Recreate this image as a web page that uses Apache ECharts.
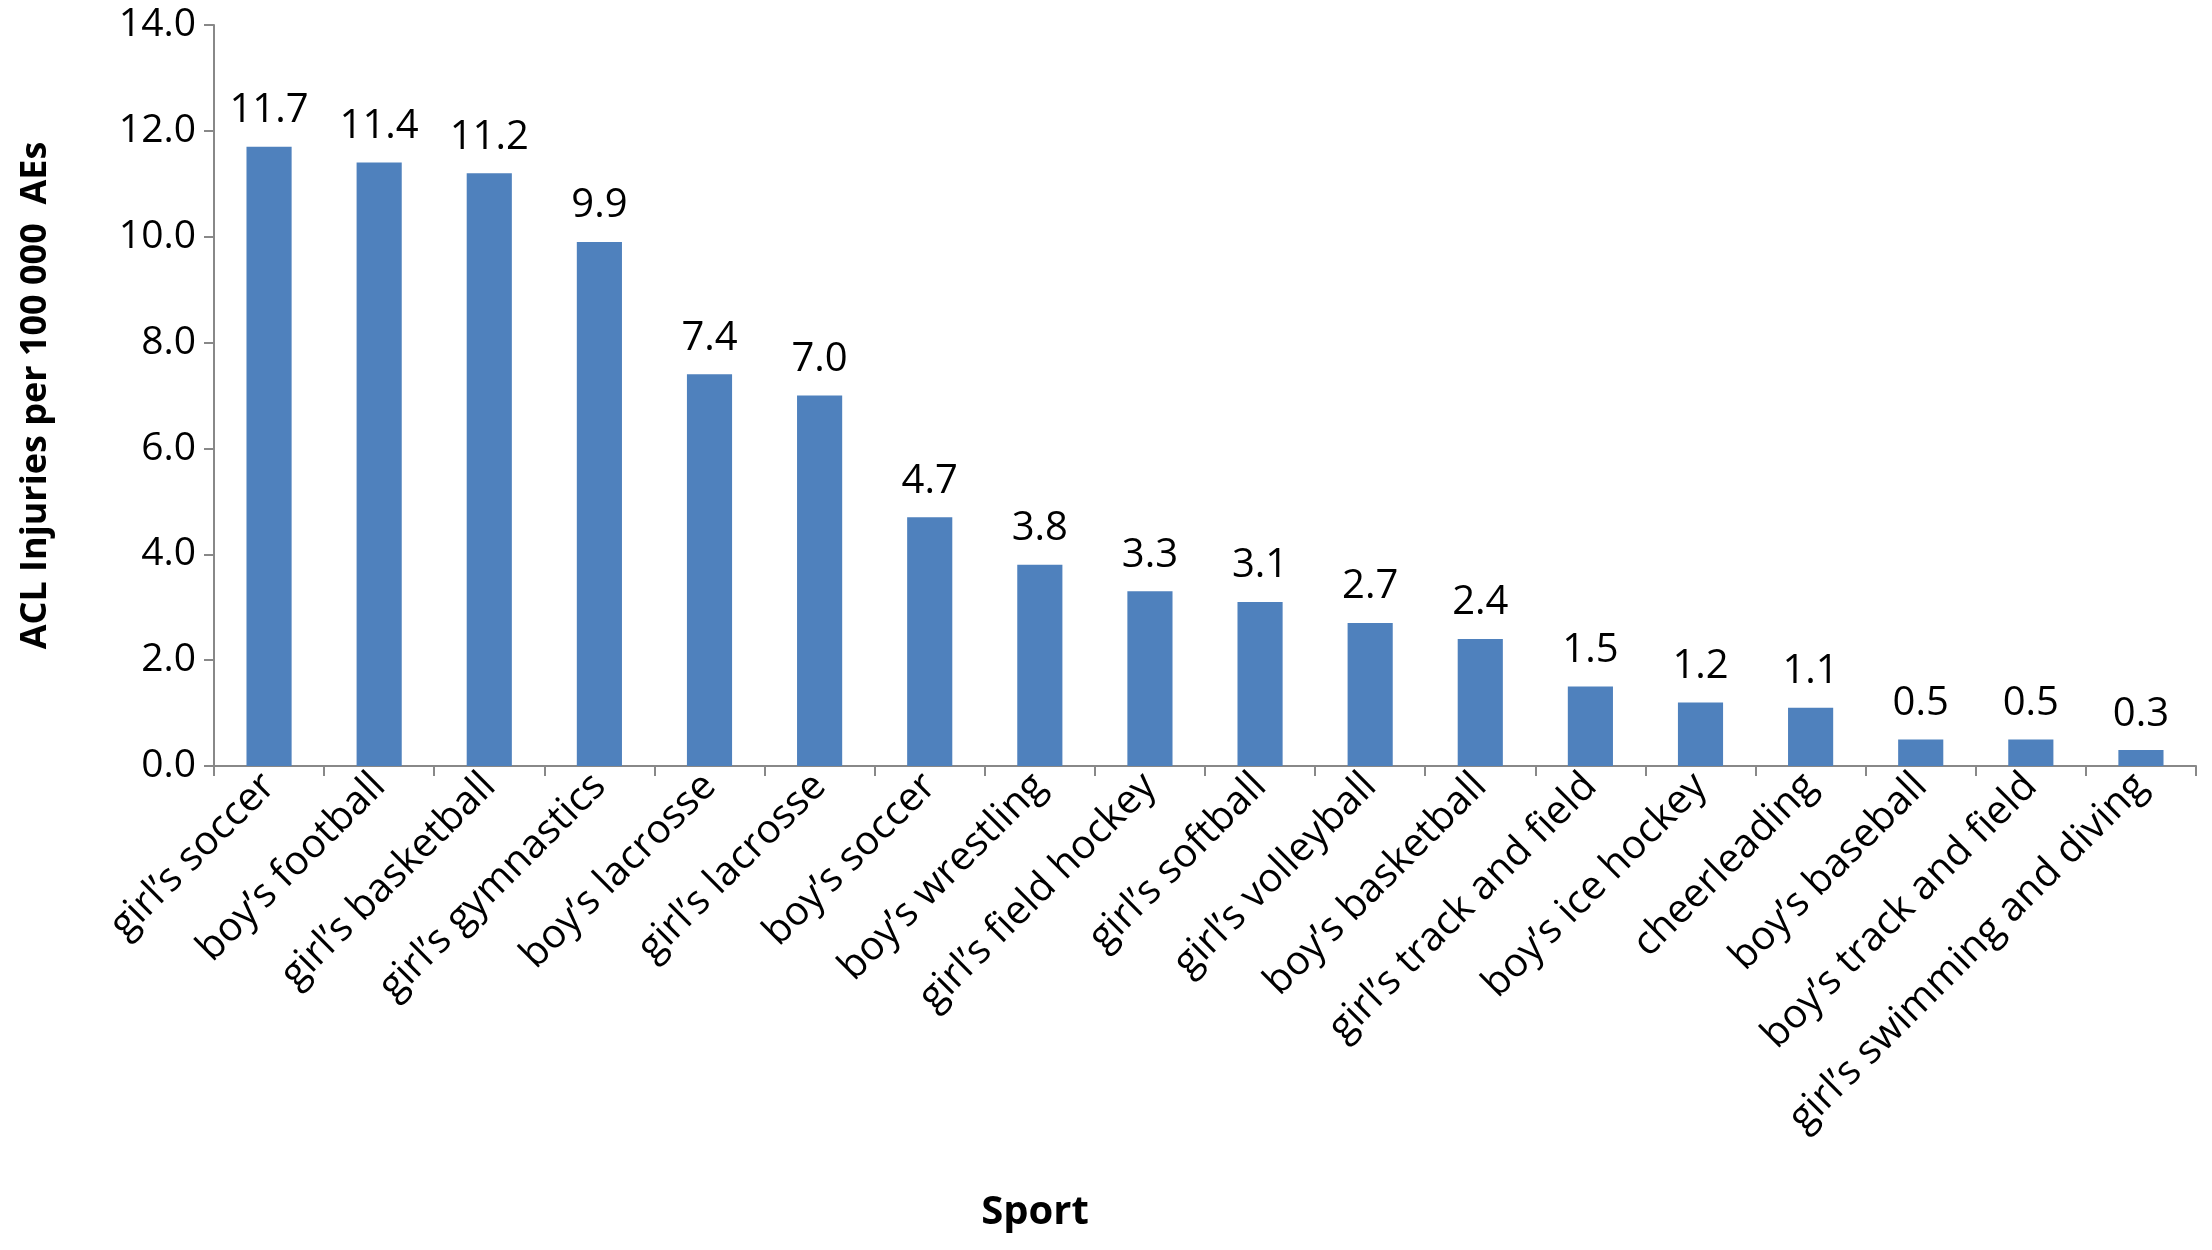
<!DOCTYPE html>
<html>
<head>
<meta charset="utf-8">
<script src="https://cdn.jsdelivr.net/npm/echarts@6/dist/echarts.min.js"></script>
<style>html,body{margin:0;padding:0;background:#fff}#main{width:2212px;height:1250px}</style>
</head>
<body>
<div id="main"></div>
<script>
var sports = ["girl’s soccer", "boy’s football", "girl’s basketball", "girl’s gymnastics",
  "boy’s lacrosse", "girl’s lacrosse", "boy’s soccer", "boy’s wrestling", "girl’s field hockey",
  "girl’s softball", "girl’s volleyball", "boy’s basketball", "girl’s track and field",
  "boy’s ice hockey", "cheerleading", "boy’s baseball", "boy’s track and field",
  "girl’s swimming and diving"];
var rates = [11.7, 11.4, 11.2, 9.9, 7.4, 7.0, 4.7, 3.8, 3.3, 3.1, 2.7, 2.4, 1.5, 1.2, 1.1, 0.5, 0.5, 0.3];

var chart = echarts.init(document.getElementById('main'));
var font = 'Open Sans';
chart.setOption({
  animation: false,
  textStyle: { fontFamily: font },
  title: {
    text: 'Sport', left: 1030, top: 1188, textAlign: 'center',
    textStyle: { fontSize: 40, fontWeight: 'bold', color: '#000', fontFamily: font }
  },
  grid: { left: 214, right: 16, top: 25, bottom: 484 },
  xAxis: {
    type: 'category',
    data: sports,
    axisLine: { lineStyle: { color: '#888', width: 2 } },
    axisTick: { show: true, length: 10, lineStyle: { color: '#888', width: 2 } },
    axisLabel: { rotate: 45, fontSize: 40, color: '#000', margin: 14, interval: 0 }
  },
  yAxis: {
    type: 'value',
    min: 0, max: 14, interval: 2,
    name: 'ACL Injuries per 100 000  AEs',
    nameLocation: 'middle',
    nameGap: 160,
    nameTextStyle: { fontSize: 36, fontWeight: 'bold', color: '#000' },
    axisLine: { show: true, lineStyle: { color: '#888', width: 2 } },
    axisTick: { show: true, length: 10, lineStyle: { color: '#888', width: 2 } },
    splitLine: { show: false },
    axisLabel: { fontSize: 39, color: '#000', margin: 18, formatter: function (v) { return v.toFixed(1); } }
  },
  series: [{
    type: 'bar',
    data: rates,
    barWidth: '41%',
    itemStyle: { color: '#4F81BD' },
    label: { show: true, position: 'top', fontSize: 40, color: '#000', distance: 16,
      formatter: function (p) { return p.value.toFixed(1); } }
  }]
});
</script>
</body>
</html>
